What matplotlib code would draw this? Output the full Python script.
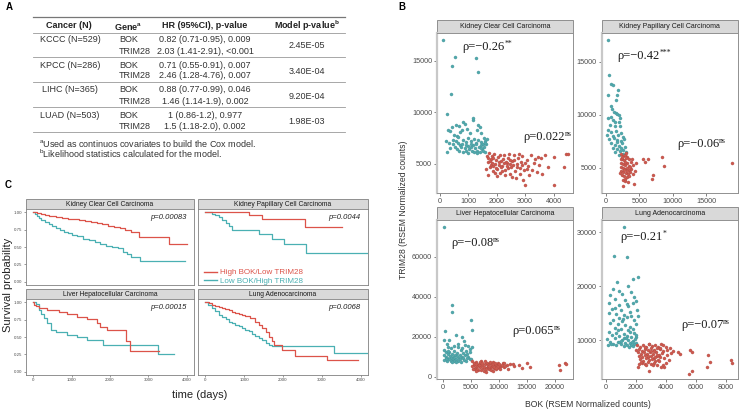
import numpy as np
import matplotlib
matplotlib.use('Agg')
import matplotlib.pyplot as plt
from matplotlib.patches import Rectangle
from matplotlib.lines import Line2D

W, H = 739, 411
plt.rcParams['font.family'] = ['Liberation Sans', 'DejaVu Sans']
plt.rcParams['mathtext.default'] = 'regular'

RED = '#CD5A50'
TEAL = '#52A9AD'
RED_C = '#DC5349'
TEAL_C = '#4AB0B3'

# ---------------- panel A: Cox model table ----------------
table_cancer = ['KCCC (N=529)', 'KPCC (N=286)', 'LIHC (N=365)', 'LUAD (N=503)']
table_genes = ['BOK', 'TRIM28']
table_hr_bok = ['0.82 (0.71-0.95), 0.009', '0.71 (0.55-0.91), 0.007',
                '0.88 (0.77-0.99), 0.046', '1 (0.86-1.2), 0.977']
table_hr_trim = ['2.03 (1.41-2.91), <0.001', '2.46 (1.28-4.76), 0.007',
                 '1.46 (1.14-1.9), 0.002', '1.5 (1.18-2.0), 0.002']
table_model_p = ['2.45E-05', '3.40E-04', '9.20E-04', '1.98E-03']

# ---------------- panel B: BOK vs TRIM28 scatter ----------------
scatter_titles = ['Kidney Clear Cell Carcinoma', 'Kidney Papillary Cell Carcinoma',
                  'Liver Hepatocellular Carcinoma', 'Lung Adenocarcinoma']

kccc_teal = [(95,17040),(528,15360),(433,14450),(1280,15260),(1327,13930),(387,11800),(246,9880),
    (430,8600),(560,8800),(660,8700),(800,9100),(880,8900),(1150,9300),(1170,9500),(1350,8800),(1400,8600),
    (280,8300),(350,8200),(500,7800),(600,7700),(700,8100),(760,8300),(950,8400),(1050,8000),(1300,8300),(1450,8000),
    (200,7200),(300,7000),(450,7300),(550,7200),(620,7600),(720,6800),(800,7300),(900,7100),(1000,7500),(1100,7200),
    (1200,7400),(1250,7000),(1350,7300),(1450,7100),(1550,7500),(1600,7200),
    (250,6200),(350,6500),(450,6900),(520,6600),(600,6400),(680,6300),(750,6600),(820,6200),(880,6500),(930,6300),
    (980,6700),(1020,6400),(1080,6600),(1120,6300),(1160,6800),(1200,6200),(1240,6500),(1280,6900),(1320,6300),
    (1360,6600),(1400,6200),(1430,6800),(1470,6400),(1500,6900),(1530,6300),(1560,6600),(1600,6200),(1620,6900),
    (1640,7400),(1100,6900),(1000,6100),(1300,6100),(1450,6500),(1580,7000),(900,6800),(780,6900),(650,7000)]
kccc_red = [(1650,5800),(1700,5200),(1750,4700),(1800,5500),(1850,4300),(1900,6000),(1950,5000),(2000,4500),
    (2050,5700),(2100,4100),(2150,5300),(2200,4800),(2250,5900),(2300,4400),(2350,5100),(2400,5600),(2450,4000),
    (2500,4700),(2550,5300),(2600,5900),(2650,4300),(2700,5000),(2750,5600),(2800,4600),(2850,5200),(2900,5800),
    (2950,4400),(3000,3000),(3050,5400),(3100,4800),(3150,3900),(3200,5900),(3300,5100),(3400,4200),(3500,4900),
    (3550,5600),(3700,5900),(3800,4700),(4000,2950),(4000,5700),(4350,4700),(4450,6000),(4500,5950),(1620,4500),
    (1680,3900),(1720,6100),(1780,4900),(1820,5800),(1870,4800),(1920,4100),(1980,5400),(2020,3800),(2080,4900),
    (2120,5900),(2180,4300),(2230,5500),(2280,3900),(2320,5200),(2380,4600),(2420,6000),(2480,5000),(2530,3700),
    (2580,4900),(2620,5400),(2680,3600),(2720,4700),(2780,6000),(2820,4000),(2880,4900),(2920,3400),(2980,5100),
    (3080,4500),(3250,4400),(3350,5500),(3450,5700),(3600,4000),(1700,5600),(1760,5300),(1840,5100),(1880,5600),
    (1960,4600),(2060,5200),(2160,4700),(2260,5100),(2360,4800),(2460,5400)]

kpcc_teal = [(250,17075),(500,13770),(770,12900),(1000,12770),(1750,12360),(350,11900),(1700,11870),(1500,11400),
    (750,10870),(900,10500),(1200,10300),(1500,10150),(1700,10050),(1950,9950),(350,9700),(700,9800),(1050,9500),
    (1400,9300),(1900,9350),(2100,9700),(600,9000),(1300,8900),(2100,8900),(250,8600),(800,8400),(1500,8500),
    (2300,8300),(200,8100),(1000,8000),(1800,8100),(2500,7900),(500,7700),(1200,7800),(1600,7600),(2200,7500),
    (2700,7700),(800,7300),(1400,7200),(1900,7100),(2400,7300),(2800,7000),(1100,6900),(1700,6800),(2100,6600),
    (2600,6700),(3000,6500),(1350,6500),(2500,6300),(2000,6200),(2900,6200),(1600,7400),(2300,6900)]
kpcc_red = [(2200,6300),(2500,6100),(2800,6200),(3100,6000),(2400,5800),(2700,5700),(3000,5900),(3400,5800),
    (3700,5600),(2300,5500),(2600,5400),(2900,5300),(3200,5500),(3500,5200),(4000,5300),(2200,5100),(2500,5000),
    (2800,4900),(3100,5000),(3400,4800),(3800,4900),(4300,4700),(2300,4700),(2600,4600),(3000,4500),(3300,4400),
    (3600,4600),(2400,4300),(2700,4200),(3100,4100),(3500,4200),(2500,3900),(2900,3800),(3300,3700),(4200,3500),
    (2600,3300),(2100,4500),(2200,5800),(3900,5800),(4500,5500),(5600,5850),(6300,5850),(5900,5600),(8350,6070),
    (8700,5190),(7000,4340),(6950,3950),(18870,5500),(2800,5600),(3200,4700),(2400,6000),(3600,5100),(4100,4400),
    (2900,4000),(3000,6400),(2700,4800)]

lihc_teal = [(230,74800),(1600,35700),(1700,32100),(5000,28400),(5170,23300),(350,23000),(2370,21000),(3500,19700),
    (230,18360),(3860,18000),(700,16400),(4500,15500),(5200,15000),(1000,15000),(2800,14800),(4800,14000),(1500,14200),
    (300,13500),(2000,13000),(3300,13200),(4200,12800),(600,12200),(1200,12500),(2500,12000),(3700,11800),(4900,12300),
    (150,11000),(900,11200),(1700,11300),(2200,10900),(3000,11000),(4000,10700),(500,10000),(1300,10200),(1900,9900),
    (2600,10100),(3400,9800),(4600,10000),(800,9300),(1500,9500),(2100,9200),(2900,9400),(3600,9100),(4300,9300),
    (1100,8700),(1800,8500),(2400,8800),(3100,8600),(3800,8400),(4800,8700),(700,8000),(1400,7900),(2000,7700),
    (2700,7800),(3200,7500),(4100,7600),(500,8800),(1600,7300),(2300,7100),(5000,9000),(4400,11500),(3500,14500),
    (900,13000),(2800,16500),(1200,18500),(200,8400),(3900,16000),(2100,15500)]
lihc_red = [(5200,7800),(5500,6000),(5700,4500),(5900,7200),(6100,5200),(6300,3500),(6500,6500),(6700,4800),
    (6900,7800),(7100,5700),(7300,3000),(7500,6200),(7700,4300),(7900,7000),(8100,5400),(8300,3800),(8500,6600),
    (8700,5000),(8900,7400),(9100,4500),(9300,6000),(9500,3700),(9700,5600),(9900,6800),(10100,4200),(10400,5300),
    (10700,7000),(11000,4800),(11400,5900),(11700,4000),(12100,6200),(12500,6400),(12800,5100),(13600,5800),
    (14200,4400),(15000,6800),(15600,4600),(20800,5600),(20900,3400),(21900,6700),(22100,6450),(5300,5100),
    (5600,7000),(5800,3800),(6000,6100),(6200,4000),(6400,5600),(6600,7400),(6800,3300),(7000,6600),(7200,4500),
    (7400,5000),(7600,7600),(7800,3700),(8000,6000),(8200,4700),(8400,7200),(8600,3400),(8800,5800),(9000,6400),
    (9200,4900),(9400,7000),(9600,4100),(9800,5300),(10000,6200),(10300,3900),(10600,5900),(10900,6600),(11200,5200),
    (5400,4000),(6000,2800),(7800,2500),(9000,2600),(8300,5500)]

luad_teal = [(1200,30900),(550,25500),(1390,25340),(2180,21700),(1850,21380),(740,20750),(1460,20000),(460,19500),
    (910,19100),(300,18400),(1100,18600),(1700,18900),(1900,18000),(600,17700),(1300,17500),(2000,17200),(200,16800),
    (900,16500),(1500,16300),(1800,16900),(400,15800),(1000,15500),(1600,15200),(2100,15600),(250,15000),(700,14800),
    (1200,14600),(1400,14200),(900,14000),(1700,14400),(500,13800),(1100,13500),(1900,13700),(300,13200),(800,13000),
    (1300,12800),(1600,12500),(2000,12900),(600,12300),(1000,12100),(1500,11800),(1800,12000),(200,11500),(700,11400),
    (1200,11200),(1900,11300),(400,11000),(900,10800),(1400,10700),(1700,10500),(2000,10600),(100,10200),(600,10300),
    (1100,10100),(1500,10000),(1800,9900),(300,9700),(800,9600),(1300,9500),(1600,9400),(2000,9500),(500,9300),
    (1000,9200),(1400,9100),(1700,9000),(1900,9200),(700,9000),(1200,8900),(1550,8800),(1850,8900),(900,9700),
    (1250,10400),(1650,11500),(1950,10200),(350,9200),(1050,9900),(1350,10300),(1750,9600),(2050,11000),(850,11900),
    (1150,13900),(1450,16700),(650,16000),(2150,14500),(150,9000)]
luad_red = [(2100,9000),(2300,8700),(2500,9100),(2700,8800),(2900,9200),(3100,8900),(3300,9100),(3500,8800),
    (3700,9200),(2200,8300),(2400,8000),(2600,8400),(2800,8100),(3000,8500),(3200,8200),(3400,8600),(3600,8300),
    (3800,8000),(2150,7700),(2350,7500),(2550,7800),(2750,7400),(2950,7700),(3150,7500),(3350,7800),(3550,7300),
    (3750,7600),(2250,7100),(2450,6900),(2650,7200),(2850,6800),(3050,7100),(3250,6700),(3450,7000),(3650,6800),
    (2300,6500),(2500,6200),(2700,6600),(2900,6300),(3100,6500),(3300,6100),(3500,6400),(3900,6600),(2400,5800),
    (2600,5600),(2800,5900),(3000,5500),(3200,5800),(3400,5400),(2200,5500),(2180,4960),(2890,4200),(3840,5460),
    (3900,5100),(4020,8800),(4350,7660),(4840,7850),(4950,7470),(5620,8100),(5780,7850),(5730,4330),(5570,3700),
    (6840,7230),(6950,5980),(6730,4960),(8350,6230),(8400,5800),(4100,7200),(4200,6400),(4000,5700),(3700,5000),
    (2050,8200),(3300,6900),(2800,7000),(3600,8500),(2600,8700),(3000,7900),(3400,7300),(4300,8500),(4500,8000),
    (2350,6000),(3150,5300),(3550,6100),(2900,9300),(3800,9000),(4100,8200),(2700,5300),(3250,8000)]

scatter_teal = [kccc_teal, kpcc_teal, lihc_teal, luad_teal]
scatter_red = [kccc_red, kpcc_red, lihc_red, luad_red]
scatter_xlim = [(-106, 4683), (-645, 19790), (-1020, 23270), (-267, 8820)]
scatter_ylim = [(2184, 17690), (2640, 17700), (-1240, 78400), (2790, 32240)]
scatter_xticks = [[0, 1000, 2000, 3000, 4000], [0, 5000, 10000, 15000],
                  [0, 5000, 10000, 15000, 20000], [0, 2000, 4000, 6000, 8000]]
scatter_yticks = [[5000, 10000, 15000], [5000, 10000, 15000],
                  [0, 20000, 40000, 60000], [10000, 20000, 30000]]
rho_low = ['ρ=−0.26', 'ρ=−0.42', 'ρ=−0.08', 'ρ=−0.21']
rho_low_sig = ['**', '***', 'ns', '*']
rho_high = ['ρ=0.022', 'ρ=−0.06', 'ρ=0.065', 'ρ=−0.07']
rho_high_sig = ['ns', 'ns', 'ns', 'ns']

# ---------------- panel C: survival ----------------
surv_p = ['p=0.00083', 'p=0.0044', 'p=0.00015', 'p=0.0068']
kccc_hi_t = [0, 100, 200, 300, 400, 500, 600, 750, 900, 1050, 1200, 1350, 1500, 1650, 1800, 1950, 2100,
             2250, 2400, 2550, 2750, 3550, 4000]
kccc_hi_s = [1.0, 0.985, 0.975, 0.965, 0.955, 0.945, 0.935, 0.925, 0.91, 0.90, 0.89, 0.875, 0.86, 0.845,
             0.83, 0.81, 0.79, 0.77, 0.75, 0.72, 0.64, 0.545, 0.545]
kccc_lo_t = [0, 50, 100, 150, 200, 300, 400, 500, 600, 700, 800, 900, 1000, 1150, 1300, 1450, 1600, 1750,
             1900, 2050, 2200, 2350, 2450, 2550, 2780, 3950]
kccc_lo_s = [1.0, 0.975, 0.95, 0.92, 0.895, 0.86, 0.83, 0.80, 0.77, 0.745, 0.72, 0.70, 0.68, 0.66, 0.62,
             0.60, 0.57, 0.54, 0.52, 0.50, 0.48, 0.43, 0.40, 0.355, 0.297, 0.297]
kpcc_hi_t = [0, 1120, 1460, 2560, 3525]
kpcc_hi_s = [1.0, 0.957, 0.91, 0.785, 0.785]
kpcc_lo_t = [0, 170, 260, 350, 430, 520, 600, 690, 1375, 1720, 2020, 2580, 4170]
kpcc_lo_s = [1.0, 0.98, 0.966, 0.93, 0.895, 0.85, 0.80, 0.75, 0.69, 0.622, 0.55, 0.416, 0.416]
lihc_hi_t = [0, 30, 80, 150, 360, 660, 880, 1140, 1400, 1650, 1740, 1910, 2430, 2520, 3290]
lihc_hi_s = [1.0, 0.97, 0.95, 0.924, 0.89, 0.867, 0.83, 0.795, 0.762, 0.70, 0.638, 0.605, 0.438, 0.295, 0.295]
lihc_lo_t = [0, 60, 150, 200, 275, 360, 450, 580, 880, 1140, 1400, 1830, 3250, 3680]
lihc_lo_s = [1.0, 0.98, 0.89, 0.83, 0.77, 0.70, 0.605, 0.57, 0.533, 0.495, 0.462, 0.39, 0.248, 0.248]
luad_hi_t = [0, 100, 180, 260, 350, 430, 515, 600, 690, 775, 860, 950, 1030, 1150, 1290, 1380, 1460, 1550,
             1640, 1720, 1760, 1980, 2320, 3140, 3920]
luad_hi_s = [1.0, 0.985, 0.97, 0.952, 0.935, 0.92, 0.905, 0.885, 0.865, 0.843, 0.83, 0.82, 0.81, 0.77, 0.724,
             0.68, 0.63, 0.57, 0.50, 0.438, 0.38, 0.31, 0.224, 0.167, 0.167]
luad_lo_t = [0, 80, 170, 260, 345, 430, 520, 600, 690, 775, 860, 950, 1030, 1120, 1200, 1290, 1375, 1460,
             1550, 1640, 1720, 3310, 4170]
luad_lo_s = [1.0, 0.96, 0.914, 0.87, 0.82, 0.79, 0.755, 0.724, 0.70, 0.675, 0.652, 0.625, 0.60, 0.58, 0.55,
             0.52, 0.486, 0.45, 0.414, 0.39, 0.367, 0.262, 0.262]
surv_hi = [(kccc_hi_t, kccc_hi_s), (kpcc_hi_t, kpcc_hi_s), (lihc_hi_t, lihc_hi_s), (luad_hi_t, luad_hi_s)]
surv_lo = [(kccc_lo_t, kccc_lo_s), (kpcc_lo_t, kpcc_lo_s), (lihc_lo_t, lihc_lo_s), (luad_lo_t, luad_lo_s)]
legend_labels = ['High BOK/Low TRIM28', 'Low BOK/High TRIM28']


fig = plt.figure(figsize=(W / 100, H / 100), dpi=100)
ov = fig.add_axes([0, 0, 1, 1])
ov.set_xlim(0, W)
ov.set_ylim(H, 0)
ov.axis('off')


def px_axes(x0, y0, x1, y1):
    return fig.add_axes([x0 / W, 1 - y1 / H, (x1 - x0) / W, (y1 - y0) / H])


def strip(x0, y0, x1, y1, label, size):
    ov.add_patch(Rectangle((x0, y0), x1 - x0, y1 - y0, facecolor='#D9D9D9',
                           edgecolor='#808080', lw=0.6))
    ov.text((x0 + x1) / 2, (y0 + y1) / 2 + 0.3, label, ha='center', va='center',
            fontsize=size, color='#1A1A1A')


def rho_text(ax, pos, base, sig):
    serif = ['Liberation Serif', 'DejaVu Serif']
    t = ax.text(*pos, base, transform=ax.transAxes, ha='left', va='center',
                fontsize=9, family=serif, color='#1A1A1A')
    ax.annotate(sig, xy=(1.0, 0.78), xycoords=t, ha='left', va='center',
                fontsize=5.5, family=serif, color='#1A1A1A')


# panel letters
for lab, x, y in [('A', 9, 7), ('B', 402, 7), ('C', 8, 185)]:
    ov.text(x, y, lab, fontsize=7, fontweight='bold', ha='center', va='center')

# ---- table (A)
tc = '#333333'
ov.plot([33, 345], [17.5, 17.5], color='#777777', lw=0.9)
ov.plot([33, 345], [33, 33], color='#999999', lw=0.6)
ov.text(69, 26, 'Cancer (N)', ha='center', va='center', fontsize=6.5, fontweight='bold', color='#222222')
ov.text(128, 26, r'Gene$^{a}$', ha='center', va='center', fontsize=6.5, fontweight='bold', color='#222222')
ov.text(205, 26, 'HR (95%CI), p-value', ha='center', va='center', fontsize=6.5, fontweight='bold', color='#222222')
ov.text(307, 26, r'Model p-value$^{b}$', ha='center', va='center', fontsize=6.5, fontweight='bold', color='#222222')
for i in range(4):
    y0 = 40 + i * 25
    ov.text(70, y0, table_cancer[i], ha='center', va='center', fontsize=6.5, color=tc)
    ov.text(119, y0, table_genes[0], ha='left', va='center', fontsize=6.5, color=tc)
    ov.text(119, y0 + 11, table_genes[1], ha='left', va='center', fontsize=6.5, color=tc)
    ov.text(205, y0, table_hr_bok[i], ha='center', va='center', fontsize=6.5, color=tc)
    ov.text(205, y0 + 11, table_hr_trim[i], ha='center', va='center', fontsize=6.5, color=tc)
    ov.text(307, y0 + 6, table_model_p[i], ha='center', va='center', fontsize=6.5, color=tc)
    ov.plot([33, 345], [y0 + 17.5, y0 + 17.5], color='#999999', lw=0.6)
ov.text(39, 143, r'$^{a}$Used as continuos covariates to build the Cox model.', ha='left', va='center',
        fontsize=6.5, color=tc)
ov.text(39, 154, r'$^{b}$Likelihood statistics calculated for the model.', ha='left', va='center',
        fontsize=6.5, color=tc)

# ---- scatter (B)
b_rects = [(437, 33, 573, 193), (601.7, 33, 738, 193), (437, 220, 573, 379), (601.7, 220, 738, 379)]
rho_low_pos = [(0.189, 0.9125), (0.112, 0.856), (0.103, 0.855), (0.139, 0.893)]
rho_high_pos = [(0.632, 0.35), (0.552, 0.306), (0.551, 0.302), (0.58, 0.34)]
for i, (x0, y0, x1, y1) in enumerate(b_rects):
    ax = px_axes(x0, y0, x1, y1)
    strip(x0, y0 - 13, x1, y0, scatter_titles[i], 5)
    tx, ty = np.array(scatter_teal[i]).T
    rx, ry = np.array(scatter_red[i]).T
    ax.scatter(tx, ty, s=5, color=TEAL, edgecolors='#3F8E92', linewidths=0.2, zorder=3)
    ax.scatter(rx, ry, s=5, color=RED, edgecolors='#A8463E', linewidths=0.2, zorder=3)
    ax.set_xlim(*scatter_xlim[i])
    ax.set_ylim(*scatter_ylim[i])
    ax.set_xticks(scatter_xticks[i])
    ax.set_yticks(scatter_yticks[i])
    ax.tick_params(labelsize=5.2, labelcolor='#4D4D4D', color='#4D4D4D', length=2, width=0.5, pad=1.5)
    for side in ['top', 'right', 'bottom']:
        ax.spines[side].set_color('#909090')
        ax.spines[side].set_linewidth(0.7)
    ax.spines['left'].set_color('#C8C8C8')
    ax.spines['left'].set_linewidth(1.6)
    rho_text(ax, rho_low_pos[i], rho_low[i], rho_low_sig[i])
    rho_text(ax, rho_high_pos[i], rho_high[i], rho_high_sig[i])

ov.text(403, 210, 'TRIM28 (RSEM Normalized counts)', rotation=90, ha='center', va='center',
        fontsize=6.2, color='#333333')
ov.text(588, 404, 'BOK (RSEM Normalized counts)', ha='center', va='center', fontsize=6.2, color='#333333')

# ---- survival (C)
c_rects = [(26, 209, 194, 285), (198, 209, 368, 285), (26, 299, 194, 375), (198, 299, 368, 375)]
for i, (x0, y0, x1, y1) in enumerate(c_rects):
    ax = px_axes(x0, y0, x1, y1)
    strip(x0, y0 - 10, x1, y0, scatter_titles[i], 4.9)
    lt, ls = surv_lo[i]
    ht, hs = surv_hi[i]
    ax.step(lt, ls, where='post', color=TEAL_C, lw=0.9)
    ax.step(ht, hs, where='post', color=RED_C, lw=0.9)
    ax.set_xlim(-190, 4190)
    ax.set_ylim(-0.05, 1.05)
    ax.set_xticks([0, 1000, 2000, 3000, 4000])
    ax.set_yticks([0, 0.25, 0.5, 0.75, 1.0])
    ax.set_yticklabels(['0.00', '0.25', '0.50', '0.75', '1.00'])
    ax.tick_params(labelsize=3.2, labelcolor='#4D4D4D', color='#4D4D4D', length=1.5, width=0.4, pad=1)
    if i % 2 == 1:
        ax.tick_params(labelleft=False, left=False)
    if i < 2:
        ax.tick_params(labelbottom=False, bottom=False)
    for side in ax.spines.values():
        side.set_color('#808080')
        side.set_linewidth(0.6)
    ax.text(4000, 0.92, surv_p[i], ha='right', va='center', fontsize=5.5, style='italic', color='#222222')

fig.legend(handles=[Line2D([], [], color=RED_C, lw=1.0), Line2D([], [], color=TEAL_C, lw=1.0)],
           labels=legend_labels, loc='center left', bbox_to_anchor=(204 / W, 1 - 277 / H),
           frameon=False, fontsize=5.8, handlelength=1.6, handletextpad=0.4, labelspacing=0.15,
           borderpad=0, borderaxespad=0, labelcolor='linecolor')

ov.text(8, 285, 'Survival probability', rotation=90, ha='center', va='center', fontsize=8, color='#222222')
ov.text(200, 395, 'time (days)', ha='center', va='center', fontsize=8, color='#222222')

fig.savefig('out.png', dpi=100)
